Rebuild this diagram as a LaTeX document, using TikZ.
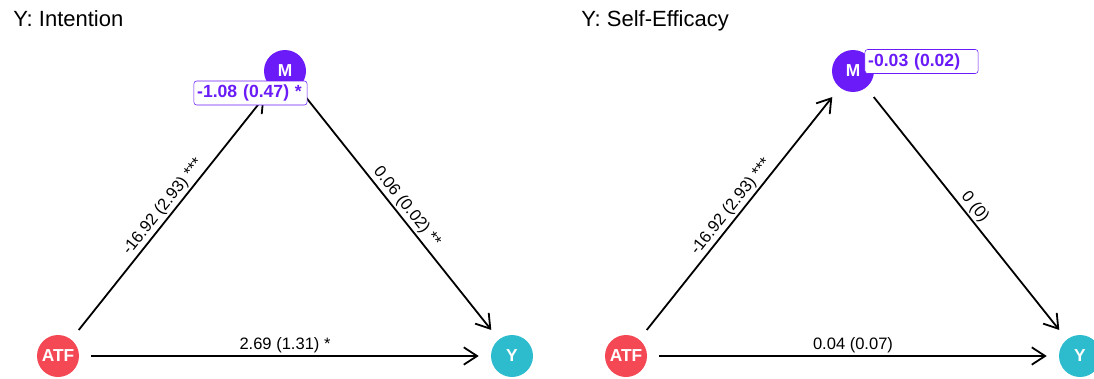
\documentclass[tikz,border=0pt]{standalone}
\usepackage{fontspec}
\setmainfont{Liberation Sans}
\usetikzlibrary{arrows.meta}
\definecolor{atfred}{RGB}{245,72,85}
\definecolor{mpurple}{RGB}{106,27,247}
\definecolor{ycyan}{RGB}{44,188,206}

\begin{document}
\begin{tikzpicture}[x=0.75pt,y=-0.75pt,
  var/.style={circle, minimum size=31.5pt, inner sep=0pt, text=white,
    font=\bfseries\fontsize{13}{13}\selectfont},
  eff/.style={line width=1.35pt, -{Straight Barb[length=10pt,width=13pt]},
    shorten <=9pt, shorten >=9pt},
  coef/.style={font=\fontsize{12.4}{13}\selectfont, inner sep=1.5pt},
  indirect/.style={draw=mpurple, fill=white, rounded corners=2pt, text=mpurple,
    font=\bfseries\fontsize{13.2}{14}\selectfont, text width=80pt, align=left,
    inner xsep=2.4pt, inner ysep=0pt, minimum height=18pt},
  heading/.style={anchor=base west, inner sep=0pt, font=\fontsize{16.5}{18}\selectfont}]
  \useasboundingbox (0,0) rectangle (1094,378);

  % left panel
  \node[heading] (titleL) at (13,27) {Y: Intention};
  \node[var, fill=atfred] (atfL) at (58,356) {ATF};
  \node[var, fill=mpurple] (mL) at (285,71) {M};
  \node[var, fill=ycyan] (yL) at (512,356) {Y};

  \draw[eff] (atfL) -- (mL) node[midway, sloped, above, coef] {-16.92 (2.93) ***};
  \draw[eff] (mL) -- (yL) node[midway, sloped, above, coef] {0.06 (0.02) **};
  \draw[eff] (atfL) -- (yL) node[midway, above, coef] {2.69 (1.31) *};

  \node[indirect] (indL) at (250.5,93) {-1.08 (0.47) *};

  % right panel
  \node[heading] (titleR) at (581,27) {Y: Self-Efficacy};
  \node[var, fill=atfred] (atfR) at (626,356) {ATF};
  \node[var, fill=mpurple] (mR) at (853,71) {M};
  \node[var, fill=ycyan] (yR) at (1080,356) {Y};

  \draw[eff] (atfR) -- (mR) node[midway, sloped, above, coef] {-16.92 (2.93) ***};
  \draw[eff] (mR) -- (yR) node[midway, sloped, above, coef] {0 (0)};
  \draw[eff] (atfR) -- (yR) node[midway, above, coef] {0.04 (0.07)};

  \node[indirect] (indR) at (921.5,61.5) {-0.03 (0.02)};
\end{tikzpicture}
\end{document}
